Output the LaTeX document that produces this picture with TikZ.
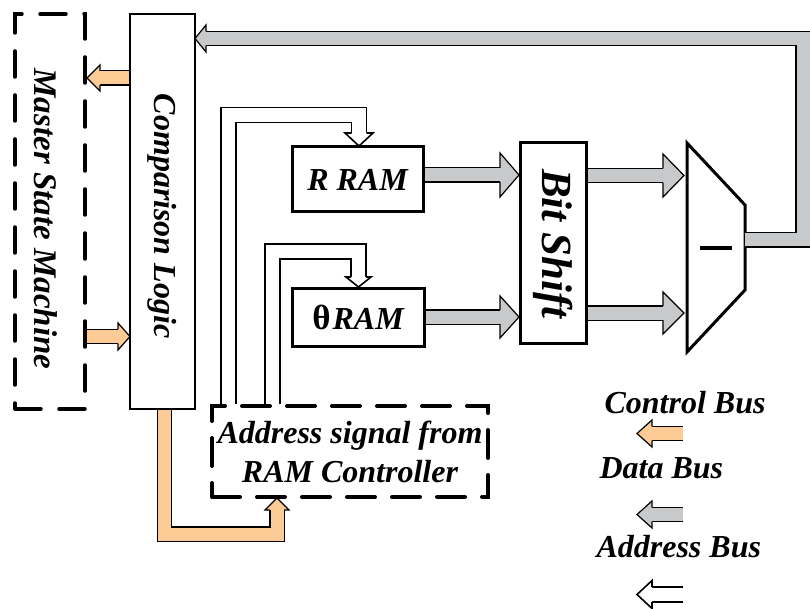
\documentclass[tikz,border=0pt]{standalone}
\usepackage{fontspec}
\setmainfont{Liberation Serif}
\usetikzlibrary{calc}

\definecolor{ctrlbus}{HTML}{FDCB95}
\definecolor{databus}{HTML}{C8C9CB}

\tikzset{
  lbl/.style={font=\fontsize{32}{40}\selectfont\bfseries\itshape, align=center},
  block/.style={draw, line width=3pt, fill=white, inner sep=0pt},
  dashbox/.style={draw, line width=3.5pt, dash pattern=on 26pt off 18pt, line cap=round, inner sep=0pt},
  busline/.style={line width=1.2pt, double distance=13pt},
  ctrl/.style={busline, double=ctrlbus},
  data/.style={busline, double=databus},
  addrline/.style={line width=1.6pt, double distance=13.4pt, double=white},
}

% Bus arrow head: #1 fill, #2 base point, #3 direction, #4 half width,
% #5 length, #6 half width of the shaft, #7 outline width
\newcommand\bushead[7]{%
  \begin{scope}[shift={(#2)}, rotate=#3]
    \fill[#1] (0,-#4) -- (#5,0) -- (0,#4) -- cycle;
    \draw[line width=#7, line join=miter] (0,-#6) -- (0,-#4) -- (#5,0) -- (0,#4) -- (0,#6);
  \end{scope}}

\begin{document}
\begin{tikzpicture}[x=1pt, y=-1pt]
\useasboundingbox (0,0) rectangle (810,609);

% ---- blocks ----
\node[dashbox, minimum width=70pt, minimum height=395pt] (msm) at (50,211.5) {};
\node[lbl, rotate=-90, font=\fontsize{33}{40}\selectfont\bfseries\itshape] (msmtxt) at (46,219) {Master State Machine};

\node[block, line width=2.5pt, minimum width=65pt, minimum height=395pt] (cl) at (162.5,211.5) {};
\node[lbl, rotate=-90] (cltxt) at (162.5,216) {Comparison Logic};

\node[block, minimum width=131pt, minimum height=65pt, lbl] (rram) at (357.5,179.5) {R RAM};
\node[block, minimum width=132pt, minimum height=58pt, lbl] (tram) at (358,317)
  {{\fontsize{35}{40}\selectfont\upshape θ}\kern2pt RAM};

\node[block, minimum width=66pt, minimum height=200pt] (bits) at (553,243) {};
\node[lbl, rotate=-90, font=\fontsize{43}{46}\selectfont\bfseries\itshape] (bitstxt) at (553,244) {Bit Shift};

\node[dashbox, line width=4pt, dash pattern=on 28pt off 17pt, minimum width=276pt, minimum height=91pt, lbl,
      font=\fontsize{32}{39}\selectfont\bfseries\itshape] (addr) at (350,451.5)
  {Address signal from\\RAM Controller};

% ---- subtractor ----
\coordinate (subA) at (687,143);
\coordinate (subB) at (745,205);
\coordinate (subC) at (745,290);
\coordinate (subD) at (687,352);
\draw[line width=3pt, line join=miter, fill=white] (subA) -- (subB) -- (subC) -- (subD) -- cycle;
\coordinate (minusL) at (700,248);
\coordinate (minusR) at (732,248);
\draw[line width=4pt] (minusL) -- (minusR);

% ---- control buses ----
\coordinate (cm) at (100,78);
\draw[ctrl] (cl.west |- cm) -- (cm);
\bushead{ctrlbus}{cm}{180}{13}{13}{7.1}{1.2pt}

\coordinate (mc) at (118,336.5);
\draw[ctrl] (msm.east |- mc) -- (mc);
\bushead{ctrlbus}{mc}{0}{13.5}{12}{7.1}{1.2pt}

\coordinate (ca1) at (164.5,534);
\coordinate (ca2) at (277,534);
\coordinate (ca3) at (277,510);
\draw[ctrl] (cl.south -| ca1) -- (ca1) -- (ca2) -- (ca3);
\bushead{ctrlbus}{ca3}{90}{12}{12}{7.1}{1.2pt}

% ---- data buses ----
\coordinate (rb) at (500,175);
\draw[data] (rram.east |- rb) -- (rb);
\bushead{databus}{rb}{0}{22}{19}{7.1}{1.2pt}

\coordinate (tb) at (500,317);
\draw[data] (tram.east |- tb) -- (tb);
\bushead{databus}{tb}{0}{21}{19}{7.1}{1.2pt}

\coordinate (bs1) at (663,175.5);
\draw[data] (bits.east |- bs1) -- (bs1);
\bushead{databus}{bs1}{0}{21.5}{21}{7.1}{1.2pt}

\coordinate (bs2) at (663,313);
\draw[data] (bits.east |- bs2) -- (bs2);
\bushead{databus}{bs2}{0}{21}{21}{7.1}{1.2pt}

\coordinate (subout) at (745,240);
\coordinate (fbR) at (803,38.5);
\coordinate (fbL) at (206,38.5);
\draw[data] (subout) -- (subout -| fbR) -- (fbR) -- (fbL);
\bushead{databus}{fbL}{180}{13.5}{11}{7.1}{1.2pt}

% ---- address buses ----
\coordinate (ar1) at (228.5,115);
\coordinate (ar2) at (359,133);
\draw[addrline] (addr.north -| ar1) -- (ar1) -- (ar1 -| ar2) -- (ar2);
\bushead{white}{ar2}{-90}{14}{13}{7.5}{1.6pt}

\coordinate (at1) at (272.5,251.5);
\coordinate (at2) at (358.5,277);
\draw[addrline] (addr.north -| at1) -- (at1) -- (at1 -| at2) -- (at2);
\bushead{white}{at2}{-90}{12.5}{10}{7.5}{1.6pt}

% ---- legend ----
\node[lbl, anchor=base west] (lctl) at (601,413) {Control Bus};
\node[lbl, anchor=base west] (ldat) at (596,478) {Data Bus};
\node[lbl, anchor=base west] (ladr) at (593,557) {Address Bus};

\coordinate (lo1) at (683,433.5);
\coordinate (lo2) at (652,433.5);
\draw[ctrl] (lo1) -- (lo2);
\bushead{ctrlbus}{lo2}{180}{13.5}{15}{7.1}{1.2pt}

\coordinate (lg1) at (683,514.5);
\coordinate (lg2) at (652,514.5);
\draw[data] (lg1) -- (lg2);
\bushead{databus}{lg2}{180}{13.5}{15}{7.1}{1.2pt}

\coordinate (la1) at (683,594.5);
\coordinate (la2) at (652,594.5);
\draw[addrline] (la1) -- (la2);
\bushead{white}{la2}{180}{14}{15}{7.5}{1.6pt}

\end{tikzpicture}
\end{document}
